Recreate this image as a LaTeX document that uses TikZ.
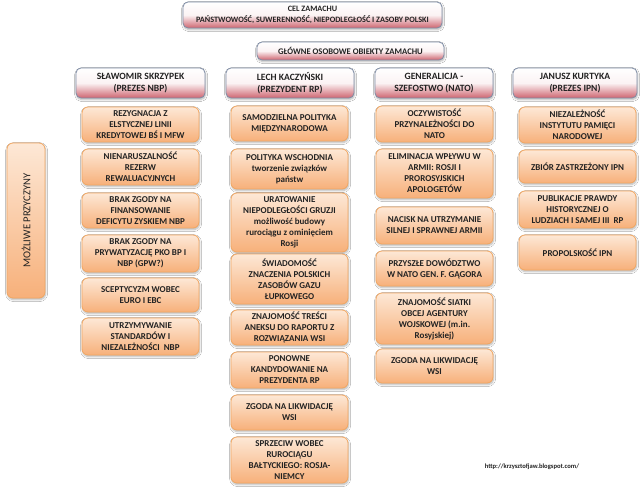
\documentclass[tikz,border=0pt]{standalone}
\usepackage{fontspec}
\setmainfont{Carlito}
\usetikzlibrary{shadows.blur}
\definecolor{hdrborder}{HTML}{7F8DA6}
\definecolor{hdrbottom}{HTML}{CE6570}
\definecolor{itemtop}{HTML}{FDE8D6}
\definecolor{itembottom}{HTML}{F7B07A}
\definecolor{itemborder}{HTML}{F2A762}
\definecolor{txt}{HTML}{222222}
\begin{document}
\begin{tikzpicture}[x=1pt,y=-1pt,
  sh/.style={blur shadow={shadow blur steps=6, shadow xshift=0.6pt, shadow yshift=-1.6pt, shadow opacity=30}},
  hdr/.style={sh, draw=hdrborder, line width=0.8pt, rounded corners=5pt,
    top color=white, bottom color=hdrbottom, middle color=white!92!hdrbottom,
    align=center, text=txt, inner sep=0pt,
    font=\bfseries\fontsize{9.6}{12.5}\selectfont},
  item/.style={sh, draw=itemborder, line width=0.8pt, rounded corners=6pt,
    top color=itemtop, bottom color=itembottom,
    align=center, text=txt, inner sep=0pt, minimum width=117pt,
    font=\bfseries\fontsize{9}{11}\selectfont}]
\useasboundingbox[fill=white] (0,0) rectangle (640,489);

% top
\node[hdr, minimum width=259pt, minimum height=26pt, font=\bfseries\fontsize{8.2}{10.8}\selectfont] (goal) at (312.5,15)
  {CEL ZAMACHU\\PAŃSTWOWOŚĆ, SUWERENNOŚĆ, NIEPODLEGŁOŚĆ I ZASOBY POLSKI};
\node[hdr, minimum width=187pt, minimum height=18pt, font=\bfseries\fontsize{8.6}{10}\selectfont] (objs) at (350.5,51)
  {GŁÓWNE OSOBOWE OBIEKTY ZAMACHU};

% headers
\node[hdr, minimum width=129pt, minimum height=30pt] (h1) at (140.5,83) {SŁAWOMIR SKRZYPEK\\(PREZES NBP)};
\node[hdr, minimum width=128pt, minimum height=30pt] (h2) at (290,83) {LECH KACZYŃSKI\\(PREZYDENT RP)};
\node[hdr, minimum width=118pt, minimum height=30pt] (h3) at (434,83) {GENERALICJA -\\SZEFOSTWO (NATO)};
\node[hdr, minimum width=124pt, minimum height=30pt] (h4) at (575,83) {JANUSZ KURTYKA\\(PREZES IPN)};

% side label
\node[item, rotate=90, minimum width=155pt, minimum height=38pt,
  font=\fontsize{10.6}{12}\selectfont] (why) at (26,220.5) {MOŻLIWE PRZYCZYNY};

% column 1
\node[item, minimum height=35pt] (a1) at (140.5,124.5) {REZYGNACJA Z\\ELSTYCZNEJ LINII\\KREDYTOWEJ BŚ I MFW};
\node[item, minimum height=36pt] (a2) at (140.5,167) {NIENARUSZALNOŚĆ\\REZERW\\REWALUACYJNYCH};
\node[item, minimum height=35pt] (a3) at (140.5,210.5) {BRAK ZGODY NA\\FINANSOWANIE\\DEFICYTU ZYSKIEM NBP};
\node[item, minimum height=37pt] (a4) at (140.5,253.5) {BRAK ZGODY NA\\PRYWATYZACJĘ PKO BP I\\NBP (GPW?)};
\node[item, minimum height=34pt] (a5) at (140.5,295) {SCEPTYCYZM WOBEC\\EURO I EBC};
\node[item, minimum height=37pt] (a6) at (140.5,336.5) {UTRZYMYWANIE\\STANDARDÓW I\\NIEZALEŻNOŚCI\ \ NBP};

% column 2
\node[item, minimum height=35pt] (b1) at (289.5,123.5) {SAMODZIELNA POLITYKA\\MIĘDZYNARODOWA};
\node[item, minimum height=40pt] (b2) at (289.5,169) {POLITYKA WSCHODNIA\\tworzenie związków\\państw};
\node[item, minimum height=59pt] (b3) at (289.5,222.5) {URATOWANIE\\NIEPODLEGŁOŚCI GRUZJI\\możliwość budowy\\rurociągu z ominięciem\\Rosji};
\node[item, minimum height=50pt] (b4) at (289.5,279) {ŚWIADOMOŚĆ\\ZNACZENIA POLSKICH\\ZASOBÓW GAZU\\ŁUPKOWEGO};
\node[item, minimum height=35pt] (b5) at (289.5,327.5) {ZNAJOMOŚĆ TREŚCI\\ANEKSU DO RAPORTU Z\\ROZWIĄZANIA WSI};
\node[item, minimum height=36pt] (b6) at (289.5,370) {PONOWNE\\KANDYDOWANIE NA\\PREZYDENTA RP};
\node[item, minimum height=35pt] (b7) at (289.5,412.5) {ZGODA NA LIKWIDACJĘ\\WSI};
\node[item, minimum height=46pt] (b8) at (289.5,460) {SPRZECIW WOBEC\\RUROCIĄGU\\BAŁTYCKIEGO: ROSJA-\\NIEMCY};

% column 3
\node[item, minimum height=36pt] (c1) at (434.5,124) {OCZYWISTOŚĆ\\PRZYNALEŻNOŚCI DO\\NATO};
\node[item, minimum height=49pt] (c2) at (434.5,173.5) {ELIMINACJA WPŁYWU W\\ARMII: ROSJI I\\PROROSYJSKICH\\APOLOGETÓW};
\node[item, minimum height=37pt] (c3) at (434.5,225.5) {NACISK NA UTRZYMANIE\\SILNEJ I SPRAWNEJ ARMII};
\node[item, minimum height=35pt] (c4) at (434.5,268.5) {PRZYSZŁE DOWÓDZTWO\\W NATO GEN. F. GĄGORA};
\node[item, minimum height=51pt] (c5) at (434.5,318.5) {ZNAJOMOŚĆ SIATKI\\OBCEJ AGENTURY\\WOJSKOWEJ (m.in.\\Rosyjskiej)};
\node[item, minimum height=34pt] (c6) at (434.5,366) {ZGODA NA LIKWIDACJĘ\\WSI};

% column 4
\node[item, minimum height=36pt] (d1) at (577.5,125) {NIEZALEŻNOŚĆ\\INSTYTUTU PAMIĘCI\\NARODOWEJ};
\node[item, minimum height=33pt] (d2) at (577.5,166.5) {ZBIÓR ZASTRZEŻONY IPN};
\node[item, minimum height=37pt] (d3) at (577.5,209.5) {PUBLIKACJE PRAWDY\\HISTORYCZNEJ O\\LUDZIACH I SAMEJ III\ \ RP};
\node[item, minimum height=35pt] (d4) at (577.5,252.5) {PROPOLSKOŚĆ IPN};

% url
\node[text=txt, font=\bfseries\fontsize{6.6}{8}\selectfont, inner sep=0pt] (url) at (532,467) {http://krzysztofjaw.blogspot.com/};
\end{tikzpicture}
\end{document}
